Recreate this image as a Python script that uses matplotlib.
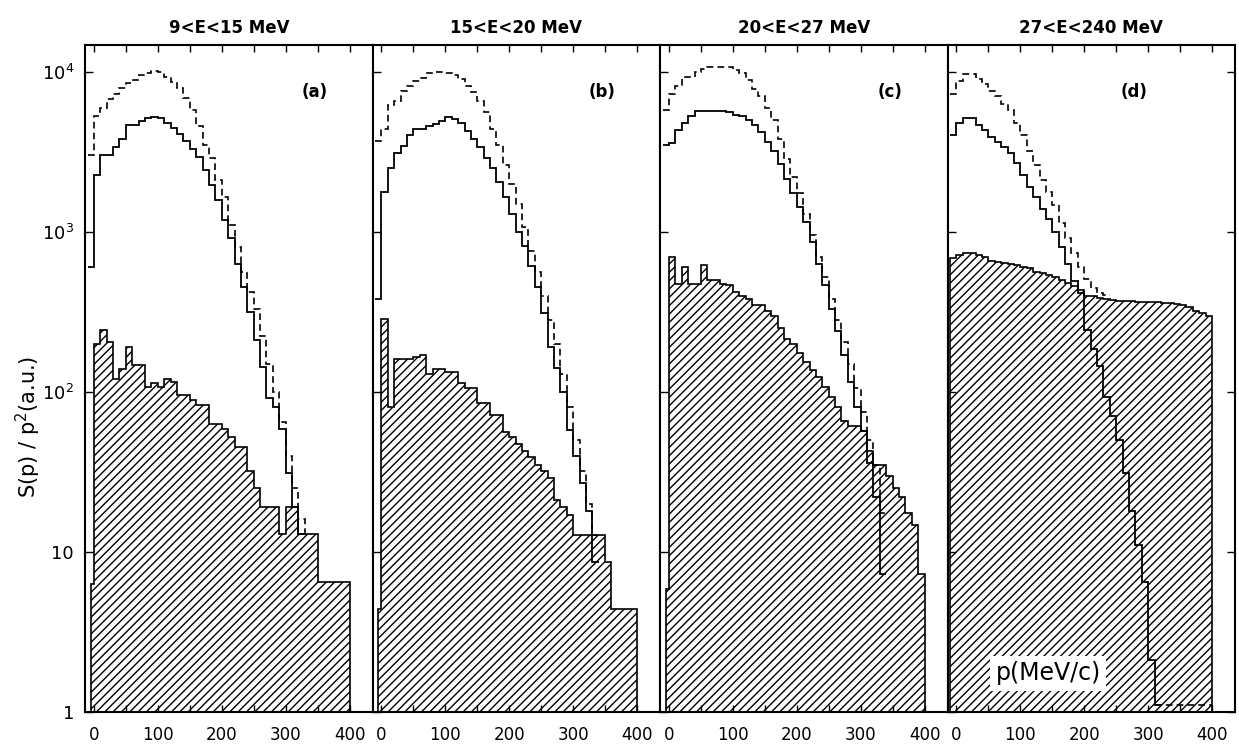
import numpy as np
import matplotlib
matplotlib.use("Agg")
import matplotlib.pyplot as plt
from matplotlib.ticker import FixedLocator, NullLocator

plt.rcParams["font.family"] = ["DejaVu Sans"]
plt.rcParams["hatch.linewidth"] = 1.0

# energy windows / panel tags
titles = ["9<E<15 MeV", "15<E<20 MeV", "20<E<27 MeV", "27<E<240 MeV"]
tags = ["(a)", "(b)", "(c)", "(d)"]

# open histograms: 10 MeV/c bins starting at p = -10
dashed_a = [3000, 5300, 5900, 6800, 7300, 7900, 8500, 8900, 9500, 9800, 10100, 9900,
            9300, 8600, 7900, 6900, 5800, 4600, 3500, 2900, 2100, 1650, 1100, 800,
            560, 420, 330, 225, 150, 100, 65, 40, 25, 16, 13]
solid_a = [600, 2250, 3000, 3000, 3400, 3800, 4650, 4650, 4900, 5150, 5250, 5150,
           4800, 4450, 4100, 3700, 3300, 2950, 2430, 1950, 1580, 1180, 910, 630,
           455, 315, 210, 144, 91, 80, 59, 31, 19, 13]
dashed_b = [3700, 4400, 6200, 6600, 7600, 8100, 8700, 9100, 9800, 10000, 10000, 9800,
            9500, 9000, 8200, 7500, 6600, 5600, 4400, 3500, 2600, 2000, 1500, 1070,
            760, 560, 400, 280, 200, 130, 80, 50, 32, 20, 12.7]
solid_b = [380, 1780, 2500, 3100, 3450, 4000, 4400, 4400, 4600, 4700, 4900, 5200,
           5100, 4800, 4250, 3800, 3400, 2900, 2500, 2050, 1660, 1300, 1000, 810,
           615, 450, 310, 190, 140, 100, 58, 40, 27, 18, 8.7]
dashed_c = [5800, 7300, 8100, 9300, 9300, 10000, 10400, 10700, 10700, 10700, 10700, 10300,
            9800, 8900, 7800, 7100, 5900, 5000, 3800, 2850, 2200, 1750, 1300, 950,
            700, 520, 380, 280, 205, 150, 105, 75, 50, 35, 17.5]
solid_c = [3500, 3600, 4300, 4800, 5300, 5650, 5650, 5700, 5700, 5650, 5600, 5400,
           5300, 5000, 4650, 4200, 3650, 3200, 2650, 2150, 1750, 1420, 1150, 870,
           630, 465, 330, 240, 170, 115, 81, 57, 36, 22, 7.3]
dashed_d = [7300, 8700, 9650, 9650, 9000, 8400, 7600, 7100, 6300, 5750, 4800, 4050,
            3200, 2600, 2100, 1780, 1480, 1130, 920, 740, 600, 510, 445, 415, 405]
solid_d = [4050, 4800, 5150, 5150, 4650, 4350, 3900, 3650, 3400, 3100, 2700, 2250,
           1900, 1650, 1380, 1200, 1000, 800, 630, 490, 415, 245, 185, 146,
           93, 71, 50, 31, 18, 11, 6.5, 2.1, 1.1]
# dashed tail of (d) along the bottom, p = 310..400
tail_d_edges = [310, 400]
tail_d = [1.1]

# hatched histograms: first value is the narrow bin just below p = 0
hatch_a = [6.3, 200, 243, 205, 120, 138, 190, 147, 147, 107, 114, 107, 121, 115, 95, 95,
           89, 83, 83, 63, 63, 59, 52, 45, 45, 32, 25, 19, 19, 19, 13, 19, 19, 13,
           13, 13, 6.5, 6.5, 6.5, 6.5, 6.5]
hatch_b = [4.4, 286, 80, 160, 160, 160, 165, 170, 130, 138, 138, 134, 134, 113, 105, 105,
           85, 85, 72, 72, 56, 52, 47, 43, 39, 35, 32, 29, 21, 19, 17, 12.7, 12.7, 12.7,
           12.7, 12.7, 8.7, 4.4, 4.4, 4.4, 4.4]
hatch_c = [5.9, 700, 470, 600, 470, 470, 620, 500, 500, 470, 465, 420, 400, 380, 350, 350,
           320, 300, 250, 215, 200, 175, 153, 137, 123, 108, 93, 81, 66, 61, 61, 57,
           43, 35, 35, 30, 25, 22, 17.5, 14.7, 7.3]
hatch_d = [690, 720, 740, 740, 720, 700, 660, 650, 640, 630, 620, 600, 590, 560, 550, 540,
           520, 500, 480, 460, 430, 400, 395, 385, 380, 375, 370, 370, 370, 365, 365,
           365, 365, 360, 360, 355, 350, 340, 320, 310, 300]

panels = [
    (dashed_a, solid_a, hatch_a, -5),
    (dashed_b, solid_b, hatch_b, -5),
    (dashed_c, solid_c, hatch_c, -5),
    (dashed_d, solid_d, hatch_d, -10),
]

fig, axes = plt.subplots(1, 4, figsize=(12.39, 7.51), dpi=100, sharey=True)
fig.subplots_adjust(left=0.0686, right=0.9968, bottom=0.052, top=0.940, wspace=0)

for i, (ax, (dsh, sol, hat, h0)) in enumerate(zip(axes, panels)):
    ax.set_yscale("log")

    h_edges = np.r_[h0, 10 * np.arange(len(hat))]
    ax.stairs(hat, h_edges, baseline=1, fill=True, facecolor="white",
              edgecolor="k", hatch="////", lw=1.2, zorder=1)

    sol_edges = -10 + 10 * np.arange(len(sol) + 1)
    ax.stairs(sol, sol_edges, baseline=None, color="k", lw=1.3, zorder=3)

    dsh_edges = -10 + 10 * np.arange(len(dsh) + 1)
    ax.stairs(dsh, dsh_edges, baseline=None, color="k", lw=1.2,
              ls=(0, (4, 2.5)), zorder=3)

    if i == 3:
        ax.stairs(tail_d, tail_d_edges, baseline=None, color="k", lw=1.2,
                  ls=(0, (4, 2.5)), zorder=3)
        ax.text(0.35, 0.058, "p(MeV/c)", transform=ax.transAxes, ha="center",
                va="center", fontsize=17, zorder=5,
                bbox=dict(facecolor="white", edgecolor="none", pad=4))

    ax.set_xlim(-14, 436)
    ax.set_ylim(1, 10 ** 4.167)

    ax.xaxis.set_major_locator(FixedLocator([0, 100, 200, 300, 400]))
    ax.xaxis.set_minor_locator(FixedLocator([50, 150, 250, 350]))
    ax.yaxis.set_major_locator(FixedLocator([1, 10, 100, 1000, 10000]))
    ax.yaxis.set_minor_locator(NullLocator())
    ax.set_yticklabels(["1", "10", "$10^2$", "$10^3$", "$10^4$"])

    ax.tick_params(axis="x", which="both", direction="in", top=True, length=5,
                   width=1.0, labelsize=12, pad=10)
    ax.tick_params(axis="y", which="both", direction="in", length=6, width=1.0,
                   labelsize=13, pad=8, right=(i == 3))
    for sp in ax.spines.values():
        sp.set_linewidth(1.5)

    ax.set_title(titles[i], fontsize=12, fontweight="bold", pad=9)
    tx = 0.80 if i < 3 else 0.65
    ax.text(tx, 0.93, tags[i], transform=ax.transAxes, ha="center", va="center",
            fontsize=12, fontweight="bold")

fig.text(0.023, 1 - 427 / 751, "S(p) / p$^2$(a.u.)", rotation=90, ha="center",
         va="center", fontsize=15)

plt.savefig("out.png", dpi=100)
